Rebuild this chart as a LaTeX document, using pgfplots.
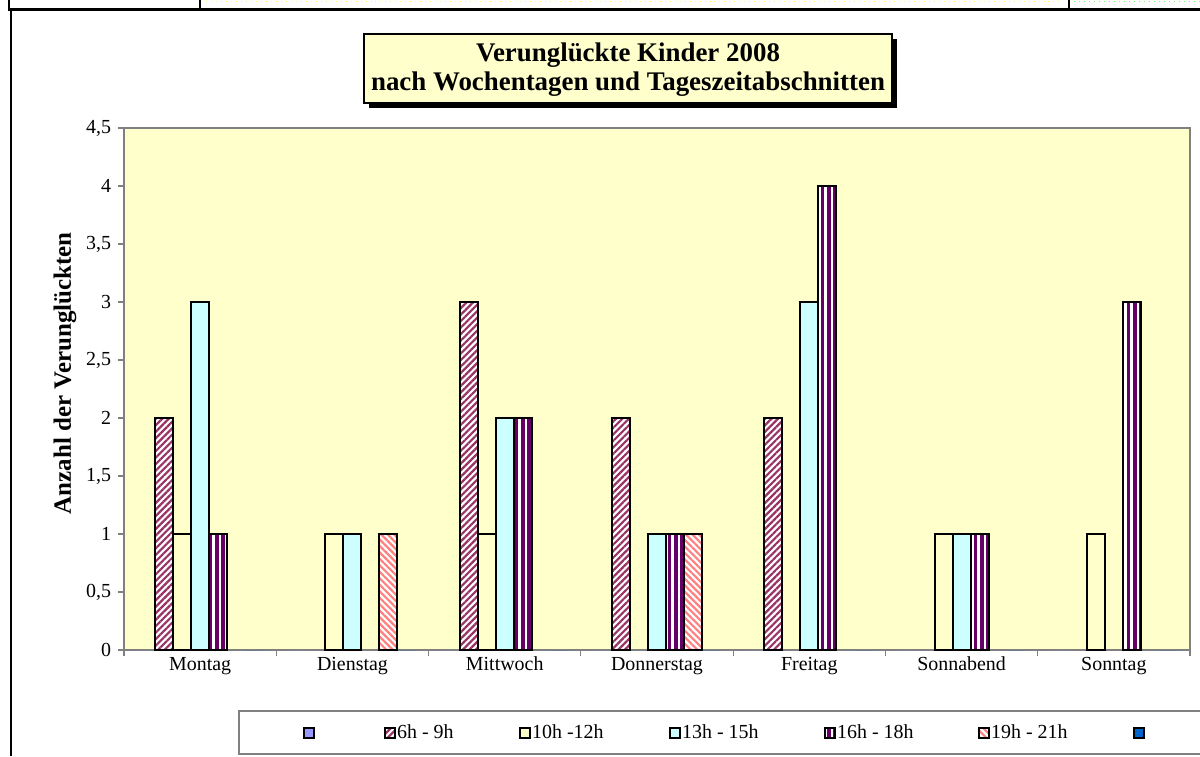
\documentclass[border=0pt]{standalone}
\usepackage{fontspec}
\setmainfont{Liberation Serif}
\usepackage{pgfplots}
\pgfplotsset{compat=1.18}
\usetikzlibrary{patterns.meta}

\definecolor{cA}{HTML}{9999FF}
\definecolor{cB}{HTML}{993366}
\definecolor{cC}{HTML}{FFFFCC}
\definecolor{cD}{HTML}{CCFFFF}
\definecolor{cE}{HTML}{660066}
\definecolor{cF}{HTML}{FF8080}
\definecolor{cG}{HTML}{0066CC}
\definecolor{bg}{HTML}{FFFFCC}
\definecolor{ax}{HTML}{808080}

\begin{document}
\begin{tikzpicture}
\begin{scope}[x=1bp,y=1bp]
\path[use as bounding box] (0,0) rectangle (600,378);
% outer frame
\draw[black, line width=1.2bp] (5.5,0) -- (5.5,373.5);
\draw[black, line width=1.6bp] (4,373.3) -- (601,373.3);
\draw[black, line width=0.9bp] (4.5,373) -- (4.5,379);
\draw[black, line width=0.9bp] (100,373) -- (100,379);
\draw[black, line width=0.9bp] (534.5,373) -- (534.5,379);
\draw[yellow!60!white, dotted, line width=0.5bp] (103,377.3) -- (531,377.3);
\draw[green!60!white, dotted, line width=0.5bp] (537,377.3) -- (601,377.3);
% legend frame
\draw[ax, line width=0.75bp] (119.5,1) rectangle (603,22.5);
% title box
\fill[black] (184.5,324) rectangle (448.5,358.5);
\draw[black, line width=1bp, fill=bg] (182,326.5) rectangle (446,361);
\node[align=center, font=\bfseries\fontsize{13.5}{14.5}\selectfont] at (314,343.4)
  {Verunglückte Kinder 2008\\nach Wochentagen und Tageszeitabschnitten};
\end{scope}

\begin{axis}[
  at={(62bp,53bp)}, anchor=south west,
  scale only axis, width=533bp, height=261bp,
  ybar=0pt, bar width=9bp,
  xmin=-0.5, xmax=6.5, ymin=0, ymax=4.5,
  axis background/.style={fill=bg},
  axis line style={draw=ax, line width=0.8bp},
  tick style={draw=ax, line width=0.6bp},
  tick align=outside, tick pos=left,
  major tick length=3bp,
  xtick={-0.5,0.5,...,6.5}, xticklabel=\empty,
  extra x ticks={0,1,2,3,4,5,6},
  extra x tick labels={Montag,Dienstag,Mittwoch,Donnerstag,Freitag,Sonnabend,Sonntag},
  extra x tick style={major tick length=0pt},
  xticklabel style={font=\fontsize{10}{12}\selectfont, yshift=0bp},
  ytick={0,0.5,...,4.5},
  yticklabel style={font=\fontsize{10}{12}\selectfont},
  /pgf/number format/use comma,
  /pgf/number format/assume math mode=true,
  ylabel={Anzahl der Verunglückten},
  ylabel style={font=\bfseries\fontsize{12.5}{14}\selectfont, at={(axis description cs:-0.0553,0.53)}, anchor=center},
  legend columns=7,
  legend style={draw=none, fill=none, at={(axis description cs:0.1679,-0.159)}, anchor=west,
    inner sep=0pt, column sep=0pt, font=\fontsize{10}{12}\selectfont, nodes={inner sep=0pt}},
  legend cell align=left,
  legend image code/.code={\draw[#1, draw=black, line width=0.9bp] (0bp,-2.5bp) rectangle (5bp,2.5bp);},
  every axis plot/.append style={line width=1bp},
]
\addplot[draw=none, fill=cA] coordinates {(0,0) (1,0) (2,0) (3,0) (4,0) (5,0) (6,0)};
\addplot[draw=black, preaction={fill=white}, pattern={Lines[angle=45,distance=2.3pt,line width=1.1pt]}, pattern color=cB]
  coordinates {(0,2) (2,3) (3,2) (4,2)};
\addplot[draw=black, fill=cC] coordinates {(0,1) (1,1) (2,1) (5,1) (6,1)};
\addplot[draw=black, fill=cD] coordinates {(0,3) (1,1) (2,2) (3,1) (4,3) (5,1)};
\addplot[draw=black, preaction={fill=white}, pattern={Lines[angle=90,distance=3.2pt,line width=1.9pt]}, pattern color=cE]
  coordinates {(0,1) (2,2) (3,1) (4,4) (5,1) (6,3)};
\addplot[draw=black, preaction={fill=white}, pattern={Lines[angle=-45,distance=2.3pt,line width=1.1pt]}, pattern color=cF]
  coordinates {(1,1) (3,1)};
\addplot[draw=none, fill=cG] coordinates {(0,0) (1,0) (2,0) (3,0) (4,0) (5,0) (6,0)};
\legend{\makebox[34.6bp][l]{},
  \makebox[61.6bp][l]{\hspace{0.5bp}6h - 9h},
  \makebox[69.1bp][l]{\hspace{0.5bp}10h -12h},
  \makebox[71.6bp][l]{\hspace{0.5bp}13h - 15h},
  \makebox[71.1bp][l]{\hspace{0.5bp}16h - 18h},
  \makebox[71.6bp][l]{\hspace{0.5bp}19h - 21h},
  \makebox[1bp][l]{}}
\end{axis}
\end{tikzpicture}
\end{document}
